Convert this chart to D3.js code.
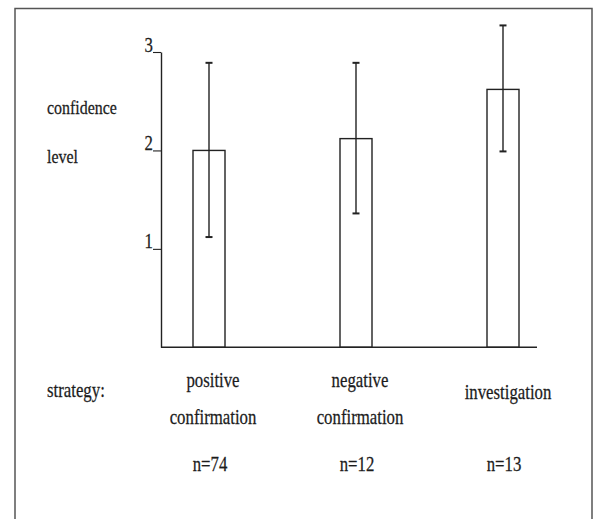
<!DOCTYPE html>
<html>
<head>
<meta charset="utf-8">
<script src="https://cdn.jsdelivr.net/npm/d3@7"></script>
<style>
body { margin: 0; background: #fff; }
svg text { font-family: "Liberation Serif", "DejaVu Serif", serif; fill: #1c1c1c; }
</style>
</head>
<body>
<div id="chart"></div>
<script>
"use strict";

const strategies = ["positive confirmation", "negative confirmation", "investigation"];
const label_lines = [["positive", "confirmation"], ["negative", "confirmation"], ["investigation"]];
const counts = [74, 12, 13];
const means = [2.0, 2.12, 2.62];
const upper = [2.89, 2.89, 3.27];
const lower = [1.12, 1.36, 1.99];
const y_ticks = [1, 2, 3];

const WIDTH = 598;
const HEIGHT = 519;
const INK = "#222";
const SX = 0.84; // the scanned type is narrow

let svg = d3.select("#chart").append("svg")
    .attr("width", WIDTH)
    .attr("height", HEIGHT);

// scanned page frame
svg.append("rect")
    .attr("x", 15)
    .attr("y", 8.5)
    .attr("width", 577)
    .attr("height", 530)
    .attr("fill", "none")
    .attr("stroke", "#555")
    .attr("stroke-width", 1.5);

let xscale = d3.scalePoint()
    .domain(strategies)
    .range([209, 503]);

let yscale = d3.scaleLinear()
    .domain([0, 3])
    .range([347.3, 52]);

const AXIS_X = 161;
const BAR_W = 32;
const CAP_W = 7;

function label(x, y, txt, size, anchor) {
    return svg.append("text")
        .attr("transform", `translate(${x},${y}) scale(${SX},1)`)
        .attr("text-anchor", anchor || "start")
        .attr("font-size", size)
        .attr("stroke", "#1c1c1c")
        .attr("stroke-width", 0.25)
        .text(txt);
}

let yaxis = svg.append("g")
    .attr("transform", `translate(${AXIS_X},0)`)
    .call(d3.axisLeft(yscale)
        .tickValues(y_ticks)
        .tickFormat(d3.format("d"))
        .tickSize(8)
        .tickSizeOuter(0)
        .tickPadding(0));

yaxis.select(".domain").attr("stroke", INK).attr("stroke-width", 1.4);
yaxis.selectAll(".tick line").attr("stroke", INK).attr("stroke-width", 1.1);
yaxis.selectAll(".tick text")
    .attr("x", -8)
    .attr("dy", "-0.05em")
    .attr("font-size", 20)
    .attr("fill", "#1c1c1c")
    .attr("stroke", "#1c1c1c")
    .attr("stroke-width", 0.25)
    .attr("transform", `scale(${SX},1)`)
    .attr("x", -8 / SX);

// baseline
svg.append("line")
    .attr("x1", AXIS_X)
    .attr("x2", 537)
    .attr("y1", yscale(0))
    .attr("y2", yscale(0))
    .attr("stroke", INK)
    .attr("stroke-width", 1.4);

const rows = strategies.map((s, i) => ({
    s: s, mean: means[i], hi: upper[i], lo: lower[i], n: counts[i], lines: label_lines[i]
}));

svg.selectAll(".bar")
    .data(rows)
    .enter().append("rect")
    .attr("class", "bar")
    .attr("x", d => xscale(d.s) - BAR_W / 2)
    .attr("y", d => yscale(d.mean))
    .attr("width", BAR_W)
    .attr("height", d => yscale(0) - yscale(d.mean))
    .attr("fill", "none")
    .attr("stroke", INK)
    .attr("stroke-width", 1.4);

let err = svg.selectAll(".err")
    .data(rows)
    .enter().append("g")
    .attr("class", "err")
    .attr("stroke", INK)
    .attr("stroke-width", 1.4);

err.append("line")
    .attr("x1", d => xscale(d.s))
    .attr("x2", d => xscale(d.s))
    .attr("y1", d => yscale(d.hi))
    .attr("y2", d => yscale(d.lo));

err.append("line")
    .attr("x1", d => xscale(d.s) - CAP_W / 2)
    .attr("x2", d => xscale(d.s) + CAP_W / 2)
    .attr("y1", d => yscale(d.hi))
    .attr("y2", d => yscale(d.hi))
    .attr("stroke-width", 2);

err.append("line")
    .attr("x1", d => xscale(d.s) - CAP_W / 2)
    .attr("x2", d => xscale(d.s) + CAP_W / 2)
    .attr("y1", d => yscale(d.lo))
    .attr("y2", d => yscale(d.lo))
    .attr("stroke-width", 2);

// y title and row title
label(47, 114, "confidence", 19);
label(47, 163, "level", 19);
label(47, 397, "strategy:", 20);

// category labels, one or two lines under each bar
rows.forEach(d => {
    const cx = xscale(d.s);
    if (d.lines.length > 1) {
        label(cx + 4, 387, d.lines[0], 20, "middle");
        label(cx + 4, 424, d.lines[1], 20, "middle");
    } else {
        label(cx + 5, 399, d.lines[0], 20, "middle");
    }
    label(cx + 1, 471, `n=${d.n}`, 20, "middle");
});
</script>
</body>
</html>
